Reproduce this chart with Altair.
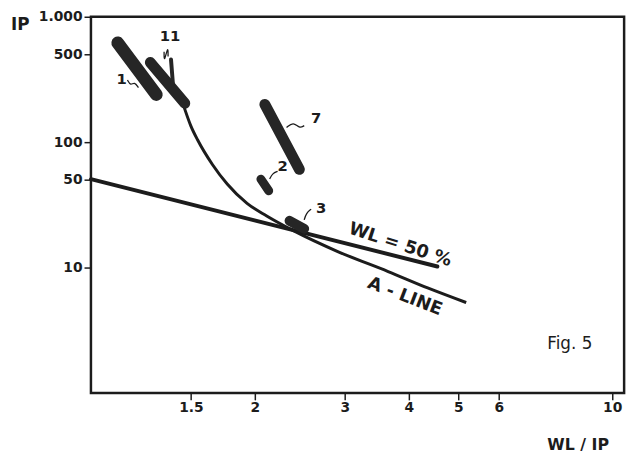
import altair as alt
import pandas as pd

# ---- data (log-log axes) ----
aline_x = [1.446, 1.499, 1.546, 1.652, 1.766, 1.931, 2.11, 2.379, 2.92, 3.645, 4.355, 5.18]
aline_y = [204, 135, 104, 66.4, 46.4, 32.5, 25.8, 19.7, 13.3, 9.3, 6.88, 5.26]

wl50_x = [0.956, 4.55]
wl50_y = [50.7, 10.2]

bar_names = ["1", "11", "11b", "7", "2", "3"]
bar_x1 = [1.079, 1.249, 1.371, 2.092, 2.055, 2.338]
bar_y1 = [618, 432, 456, 200, 50.7, 23.6]
bar_x2 = [1.283, 1.459, 1.383, 2.444, 2.129, 2.498]
bar_y2 = [240, 204, 292, 60.7, 40.9, 20.4]
bar_w = [13, 11, 4, 11, 9, 10]

leader_ids = ["1"] * 4 + ["11"] * 4 + ["7"] * 4 + ["2"] * 3 + ["3"] * 3
leader_x = [1.127, 1.143, 1.163, 1.184,
            1.353, 1.329, 1.353, 1.329,
            2.307, 2.379, 2.444, 2.498,
            2.138, 2.167, 2.216,
            2.498, 2.521, 2.577]
leader_y = [313, 282, 303, 272,
            596, 526, 481, 425,
            130.7, 145.5, 128.5, 135.5,
            50.8, 56.5, 58.5,
            24.0, 27.2, 29.2]

num_labels = ["1", "11", "7", "2", "3"]
num_x = [1.098, 1.365, 2.636, 2.266, 2.696]
num_y = [319, 700, 156, 64, 29.7]

curve_labels = ["WL = 50 %", "A - LINE"]
curve_lx = [3.846, 3.93]
curve_ly = [15.1, 5.85]
curve_angle = [18, 21]

fig_label = ["Fig. 5"]
fig_x = [8.26]
fig_y = [2.44]

x_ticks = [1.5, 2, 3, 4, 5, 6, 10]
y_ticks = [10, 50, 100, 500, 1000]

INK = "#1c1c1c"
FONT = "DejaVu Sans"

xs = alt.Scale(type="log", domain=[0.956, 10.55], nice=False)
ys = alt.Scale(type="log", domain=[1, 1000], nice=False)

x_axis = alt.Axis(values=x_ticks, format="~g", title="WL / IP", titleAngle=0,
                  titleX=493, titleY=52, titleAlign="center", titleBaseline="middle",
                  grid=False, domain=False, ticks=True, tickSize=7, tickColor=INK,
                  tickWidth=1.5, labelPadding=1, labelFontSize=14, labelFont=FONT,
                  labelFontWeight="bold", labelColor=INK, titleFont=FONT,
                  titleFontSize=16, titleFontWeight="bold", titleColor=INK,
                  labelFlush=False)
y_axis = alt.Axis(values=y_ticks, title="IP", titleAngle=0, titleX=-72, titleY=8,
                  titleAlign="center", titleBaseline="middle",
                  labelExpr="datum.value == 1000 ? '1.000' : format(datum.value, 'd')",
                  grid=False, domain=False, ticks=True, tickSize=7, tickColor=INK,
                  tickWidth=1.5, labelPadding=2, labelFontSize=14, labelFont=FONT,
                  labelFontWeight="bold", labelColor=INK, titleFont=FONT,
                  titleFontSize=17, titleFontWeight="bold", titleColor=INK,
                  labelFlush=False)

X = alt.X("x:Q", scale=xs, axis=x_axis)
Y = alt.Y("y:Q", scale=ys, axis=y_axis)

aline_df = pd.DataFrame({"x": aline_x, "y": aline_y})
wl_df = pd.DataFrame({"x": wl50_x, "y": wl50_y})
bar_df = pd.DataFrame({"name": bar_names, "x": bar_x1, "y": bar_y1,
                       "x2": bar_x2, "y2": bar_y2, "w": bar_w})
lead_df = pd.DataFrame({"id": leader_ids, "x": leader_x, "y": leader_y})
num_df = pd.DataFrame({"t": num_labels, "x": num_x, "y": num_y})
fig_df = pd.DataFrame({"t": fig_label, "x": fig_x, "y": fig_y})

aline = alt.Chart(aline_df).mark_line(color=INK, strokeWidth=3, interpolate="monotone").encode(x=X, y=Y)
wl = alt.Chart(wl_df).mark_line(color=INK, strokeWidth=4, strokeCap="round").encode(x=X, y=Y)
bars = alt.Chart(bar_df).mark_rule(color="#262626", strokeCap="round").encode(
    x=X, y=Y, x2="x2:Q", y2="y2:Q",
    strokeWidth=alt.StrokeWidth("w:Q", scale=None, legend=None))
leads = alt.Chart(lead_df).mark_line(color=INK, strokeWidth=1.3, interpolate="basis").encode(
    x=X, y=Y, detail="id:N")
nums = alt.Chart(num_df).mark_text(font=FONT, fontSize=15, fontWeight="bold", color=INK).encode(
    x=X, y=Y, text="t:N")

curve_texts = []
for lab, cx, cy, ang in zip(curve_labels, curve_lx, curve_ly, curve_angle):
    d = pd.DataFrame({"t": [lab], "x": [cx], "y": [cy]})
    curve_texts.append(
        alt.Chart(d).mark_text(font=FONT, fontSize=18, fontWeight="bold", color=INK, angle=ang).encode(
            x=X, y=Y, text="t:N"))

figt = alt.Chart(fig_df).mark_text(font=FONT, fontSize=17, color=INK).encode(x=X, y=Y, text="t:N")

chart = alt.layer(wl, aline, bars, leads, nums, *curve_texts, figt).properties(
    width=540, height=381,
    autosize=alt.AutoSizeParams(type="none"),
    padding={"left": 84, "top": 6, "right": 9, "bottom": 62},
    background="white",
).configure_view(stroke=INK, strokeWidth=2.5)

chart.save("out.html", embed_options={"renderer": "svg", "actions": False})
